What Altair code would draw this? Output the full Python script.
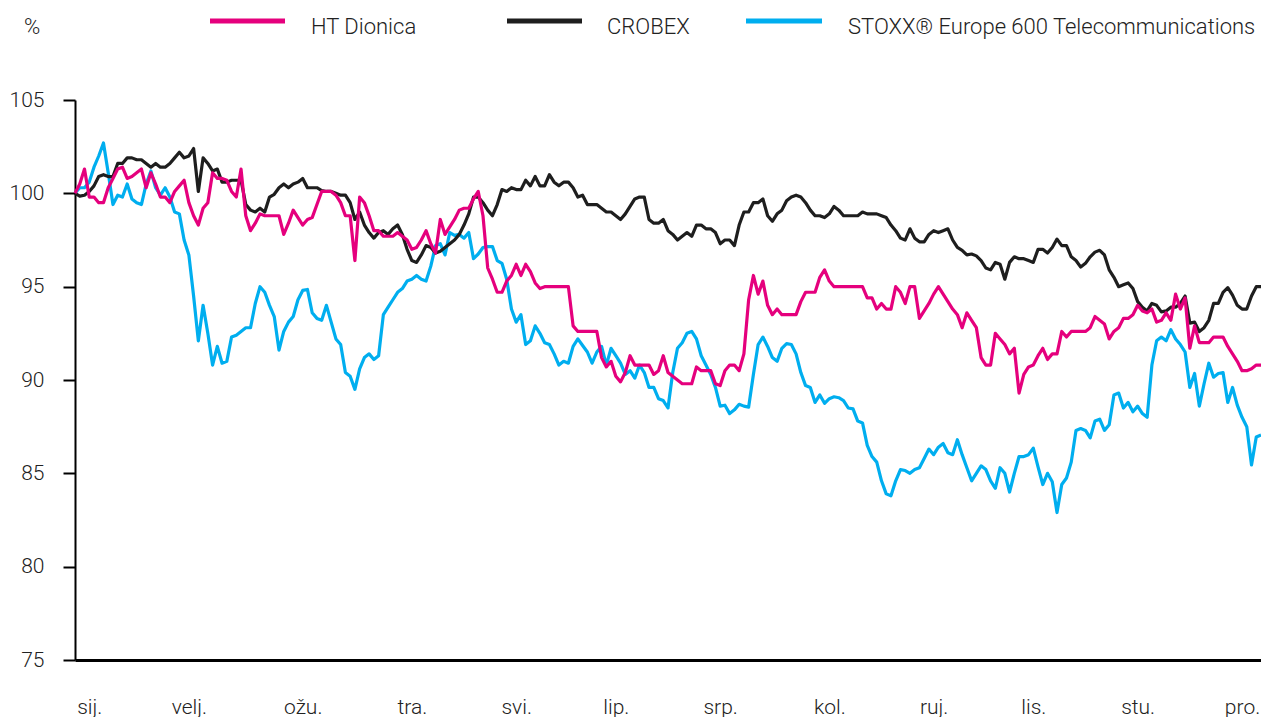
import altair as alt
import pandas as pd

# ---- data (trading day index 0..250, index value with start = 100) ----
ht_dionica = [
    100.0, 100.5, 101.3, 99.8, 99.8, 99.5, 99.5, 100.3, 100.8, 101.3,
    101.4, 100.8, 100.9, 101.1, 101.3, 100.3, 101.1, 100.5, 99.8, 99.8,
    99.5, 100.1, 100.4, 100.7, 99.5, 98.8, 98.3, 99.2, 99.5, 101.1,
    100.8, 100.8, 100.7, 100.1, 99.8, 101.3, 98.8, 98.0, 98.4, 98.9,
    98.8, 98.8, 98.8, 98.8, 97.8, 98.4, 99.1, 98.7, 98.3, 98.6,
    98.7, 99.4, 100.1, 100.1, 100.1, 99.9, 99.5, 98.8, 98.8, 96.4,
    99.8, 99.5, 98.8, 98.0, 98.0, 97.7, 97.7, 97.7, 97.9, 97.7,
    97.5, 97.0, 97.1, 97.5, 98.0, 97.3, 96.8, 98.6, 97.8, 98.2,
    98.6, 99.1, 99.2, 99.2, 99.7, 100.1, 98.8, 96.0, 95.4, 94.7,
    94.7, 95.3, 95.6, 96.2, 95.6, 96.2, 95.8, 95.2, 94.9, 95.0,
    95.0, 95.0, 95.0, 95.0, 95.0, 92.9, 92.6, 92.6, 92.6, 92.6,
    92.6, 91.2, 90.7, 91.0, 90.2, 89.9, 90.4, 91.3, 90.8, 90.8,
    90.8, 90.8, 90.3, 90.5, 91.3, 90.4, 90.2, 90.0, 89.8, 89.8,
    89.8, 90.7, 90.5, 90.5, 90.5, 89.8, 89.7, 90.5, 90.8, 90.8,
    90.5, 91.4, 94.3, 95.6, 94.6, 95.3, 94.0, 93.5, 93.8, 93.5,
    93.5, 93.5, 93.5, 94.2, 94.7, 94.7, 94.7, 95.5, 95.9, 95.3,
    95.0, 95.0, 95.0, 95.0, 95.0, 95.0, 95.0, 94.4, 94.4, 93.8,
    94.1, 93.8, 93.8, 95.0, 94.7, 94.1, 95.0, 95.0, 93.3, 93.7,
    94.1, 94.6, 95.0, 94.6, 94.2, 93.8, 93.5, 92.8, 93.6, 93.2,
    92.8, 91.2, 90.8, 90.8, 92.5, 92.2, 91.9, 91.4, 91.7, 89.3,
    90.3, 90.7, 90.8, 91.3, 91.7, 91.1, 91.4, 91.4, 92.6, 92.3,
    92.6, 92.6, 92.6, 92.6, 92.8, 93.4, 93.2, 93.0, 92.2, 92.6,
    92.8, 93.3, 93.3, 93.5, 94.0, 93.7, 93.6, 93.8, 93.1, 93.2,
    93.6, 93.2, 94.6, 93.8, 94.4, 91.7, 92.9, 92.0, 92.0, 92.0,
    92.3, 92.3, 92.3, 91.8, 91.4, 91.0, 90.5, 90.5, 90.6, 90.8,
    90.8,
]

crobex = [
    100.0, 99.85, 99.9, 100.1, 100.4, 100.9, 101.0, 100.9, 100.9, 101.6,
    101.6, 101.9, 101.9, 101.8, 101.8, 101.6, 101.4, 101.6, 101.4, 101.4,
    101.6, 101.9, 102.2, 101.9, 102.0, 102.4, 100.1, 101.9, 101.6, 101.2,
    101.3, 100.6, 100.6, 100.7, 100.7, 100.7, 99.4, 99.1, 99.0, 99.2,
    99.0, 99.8, 99.95, 100.3, 100.5, 100.3, 100.5, 100.6, 100.8, 100.3,
    100.3, 100.3, 100.15, 100.1, 100.1, 100.0, 99.9, 99.9, 99.5, 98.6,
    99.0, 98.3, 97.9, 97.6, 97.9, 98.0, 97.8, 98.1, 98.3, 97.8,
    97.0, 96.4, 96.3, 96.7, 97.2, 97.1, 96.8, 96.9, 97.1, 97.3,
    97.5, 97.8, 98.3, 98.9, 99.8, 99.8, 99.5, 99.1, 98.8, 99.4,
    100.2, 100.1, 100.3, 100.2, 100.2, 100.7, 100.4, 100.9, 100.4, 100.4,
    101.0, 100.6, 100.4, 100.6, 100.6, 100.3, 99.8, 99.9, 99.4, 99.4,
    99.4, 99.2, 99.0, 99.0, 98.8, 98.6, 98.9, 99.3, 99.7, 99.8,
    99.8, 98.6, 98.4, 98.4, 98.6, 98.0, 97.8, 97.5, 97.7, 97.9,
    97.7, 98.3, 98.3, 98.1, 98.1, 97.9, 97.3, 97.5, 97.5, 97.2,
    98.3, 99.0, 99.0, 99.5, 99.5, 99.7, 98.8, 98.5, 98.9, 99.1,
    99.6, 99.8, 99.9, 99.8, 99.5, 99.1, 98.8, 98.8, 98.7, 98.9,
    99.3, 99.1, 98.8, 98.8, 98.8, 98.8, 99.0, 98.9, 98.9, 98.9,
    98.8, 98.7, 98.3, 98.0, 97.6, 97.5, 98.1, 97.6, 97.4, 97.4,
    97.8, 98.0, 97.9, 98.0, 98.1, 97.5, 97.1, 96.95, 96.7, 96.75,
    96.65, 96.4, 96.0, 95.9, 96.3, 96.2, 95.4, 96.3, 96.6, 96.5,
    96.5, 96.4, 96.3, 97.0, 97.0, 96.8, 97.1, 97.55, 97.2, 97.2,
    96.6, 96.4, 96.05, 96.25, 96.6, 96.85, 96.95, 96.7, 95.9, 95.5,
    95.0, 95.1, 95.2, 94.9, 94.2, 93.9, 93.7, 94.1, 94.0, 93.65,
    93.7, 93.9, 93.9, 94.1, 94.5, 93.05, 93.1, 92.6, 92.8, 93.2,
    94.1, 94.1, 94.7, 94.95, 94.55, 94.0, 93.8, 93.8, 94.5, 95.0,
    95.0,
]

stoxx = [
    100.0, 100.3, 100.3, 100.6, 101.4, 102.0, 102.7, 101.1, 99.4, 99.9,
    99.8, 100.5, 99.7, 99.5, 99.4, 100.5, 101.2, 100.3, 99.9, 100.3,
    99.8, 99.0, 98.9, 97.5, 96.7, 94.5, 92.1, 94.0, 92.5, 90.8,
    91.8, 90.9, 91.0, 92.3, 92.4, 92.6, 92.8, 92.8, 94.1, 95.0,
    94.7, 94.0, 93.4, 91.6, 92.6, 93.1, 93.4, 94.3, 94.8, 94.85,
    93.6, 93.3, 93.2, 94.0, 93.1, 92.2, 91.9, 90.4, 90.2, 89.5,
    90.6, 91.2, 91.4, 91.1, 91.3, 93.5, 93.9, 94.3, 94.7, 94.9,
    95.3, 95.4, 95.6, 95.4, 95.3, 96.1, 97.2, 97.3, 96.7, 97.9,
    97.75, 97.8, 97.6, 97.9, 96.5, 96.75, 97.1, 97.15, 97.15, 96.4,
    96.25, 95.4, 93.8, 93.1, 93.5, 91.9, 92.1, 92.9, 92.5, 92.0,
    91.9, 91.4, 90.8, 91.0, 90.9, 91.8, 92.2, 91.85, 91.5, 90.9,
    91.5, 91.8, 90.8, 91.7, 91.3, 90.9, 90.3, 90.5, 90.1, 90.8,
    90.4, 89.6, 89.6, 89.0, 88.9, 88.5, 90.4, 91.7, 92.0, 92.5,
    92.6, 92.2, 91.3, 90.8, 90.3, 89.6, 88.6, 88.65, 88.2, 88.4,
    88.7, 88.6, 88.55, 90.3, 91.9, 92.3, 91.8, 91.2, 91.0, 91.7,
    91.95, 91.9, 91.4, 90.4, 89.7, 89.6, 88.8, 89.2, 88.75, 89.0,
    89.1, 89.05, 88.9, 88.5, 88.45, 87.8, 87.7, 86.5, 85.9, 85.6,
    84.6, 83.9, 83.8, 84.6, 85.2, 85.15, 85.0, 85.2, 85.3, 85.8,
    86.3, 86.0, 86.4, 86.6, 86.1, 86.0, 86.8, 86.0, 85.3, 84.6,
    85.0, 85.4, 85.2, 84.6, 84.2, 85.3, 85.0, 84.0, 85.0, 85.9,
    85.9, 86.0, 86.35, 85.35, 84.4, 85.0, 84.55, 82.9, 84.4, 84.75,
    85.6, 87.3, 87.4, 87.3, 86.9, 87.8, 87.9, 87.3, 87.6, 89.2,
    89.3, 88.5, 88.8, 88.3, 88.6, 88.2, 88.0, 90.8, 92.1, 92.3,
    92.1, 92.7, 92.2, 91.9, 91.5, 89.6, 90.35, 88.6, 89.8, 90.9,
    90.15, 90.35, 90.4, 88.8, 89.6, 88.65, 88.0, 87.5, 85.45, 86.95,
    87.05,
]

series_names = ["HT Dionica", "CROBEX", "STOXX® Europe 600 Telecommunications"]
series_colors = ["#E5007D", "#1E1E1E", "#00AEEF"]

months = ["sij.", "velj.", "ožu.", "tra.", "svi.", "lip.", "srp.", "kol.", "ruj.", "lis.", "stu.", "pro."]
month_days = [3, 24, 48, 71, 93, 114, 136, 159, 181, 202, 224, 246]
y_ticks = [75, 80, 85, 90, 95, 100, 105]

FONT = "Roboto"
WEIGHT = 300
TEXT_COLOR = "#222222"

# ---- build tables ----
frames = []
for name, vals in zip(series_names, [ht_dionica, crobex, stoxx]):
    frames.append(pd.DataFrame({"day": list(range(len(vals))), "value": vals, "series": name}))

label_expr = " : ".join(
    f"datum.value == {d} ? '{m}'" for d, m in zip(month_days, months)
) + " : ''"

x_enc = alt.X(
    "day:Q",
    scale=alt.Scale(domain=[0, 250], nice=False, zero=False),
    axis=alt.Axis(
        values=month_days,
        labelExpr=label_expr,
        title=None,
        ticks=False,
        tickSize=0,
        grid=False,
        domainColor="black",
        domainWidth=3,
        labelFontSize=21,
        labelFont=FONT,
        labelFontWeight=WEIGHT,
        labelColor=TEXT_COLOR,
        labelPadding=36,
        labelFlush=False,
        labelOverlap=False,
    ),
)
y_enc = alt.Y(
    "value:Q",
    scale=alt.Scale(domain=[75, 105], nice=False, zero=False),
    axis=alt.Axis(
        values=y_ticks,
        title=None,
        grid=False,
        domainColor="black",
        domainWidth=2,
        tickColor="black",
        tickWidth=2,
        tickSize=12,
        labelFontSize=21,
        labelFont=FONT,
        labelFontWeight=WEIGHT,
        labelColor=TEXT_COLOR,
        labelPadding=19,
    ),
)

layers = []
# draw order: STOXX bottom, CROBEX, HT Dionica on top
for idx in [2, 1, 0]:
    layers.append(
        alt.Chart(frames[idx])
        .mark_line(color=series_colors[idx], strokeWidth=3.2, strokeJoin="round")
        .encode(x=x_enc, y=y_enc)
    )

# ---- manual legend (positions relative to plot origin) ----
legend_sym = [(135, 210), (432, 507), (671, 747)]
legend_txt_x = [236, 532, 773]
one = alt.Data(values=[{"k": 1}])
for i, name in enumerate(series_names):
    layers.append(
        alt.Chart(one)
        .mark_rule(color=series_colors[i], strokeWidth=5)
        .encode(x=alt.value(legend_sym[i][0]), x2=alt.value(legend_sym[i][1]), y=alt.value(-79))
    )
    layers.append(
        alt.Chart(one)
        .mark_text(align="left", baseline="middle", fontSize=22, color=TEXT_COLOR,
                   font=FONT, fontWeight=WEIGHT)
        .encode(x=alt.value(legend_txt_x[i]), y=alt.value(-73), text=alt.value(name))
    )

layers.append(
    alt.Chart(one)
    .mark_text(align="left", baseline="middle", fontSize=22, color=TEXT_COLOR,
               font=FONT, fontWeight=WEIGHT)
    .encode(x=alt.value(-51), y=alt.value(-73), text=alt.value("%"))
)

chart = (
    alt.layer(*layers)
    .properties(
        width=1186,
        height=560,
        padding={"left": 75, "top": 100, "right": 0, "bottom": 57},
        autosize=alt.AutoSizeParams(type="none"),
    )
    .configure(font=FONT)
    .configure_view(stroke=None)
)

chart.save("out.html", embed_options={"renderer": "svg", "actions": False})
